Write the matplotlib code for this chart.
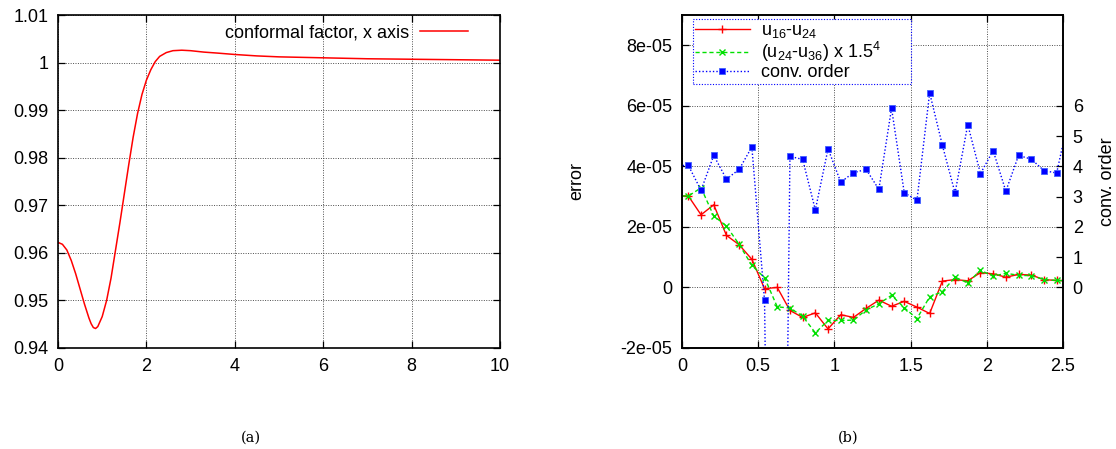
import numpy as np
import matplotlib
matplotlib.use("Agg")
import matplotlib.pyplot as plt

plt.rcParams['font.family'] = ['Liberation Sans', 'DejaVu Sans']
plt.rcParams['mathtext.default'] = 'regular'
plt.rcParams['font.size'] = 13

# (a) conformal factor along x axis
cf_x = [0.0, 0.1, 0.2, 0.3, 0.4, 0.5, 0.6, 0.7, 0.75, 0.8, 0.85, 0.9, 1.0, 1.1,
        1.2, 1.3, 1.4, 1.5, 1.6, 1.7, 1.8, 1.9, 2.0, 2.1, 2.2, 2.3, 2.45, 2.6,
        2.8, 3.0, 3.3, 3.6, 4.0, 4.5, 5.0, 5.5, 6.0, 7.0, 8.0, 9.0, 10.0]
cf_y = [0.9622, 0.9618, 0.9606, 0.9584, 0.9556, 0.9524, 0.9492, 0.9463, 0.9451,
        0.9443, 0.9441, 0.9445, 0.9466, 0.9500, 0.9547, 0.9605, 0.9663, 0.9724,
        0.9785, 0.9843, 0.9893, 0.9933, 0.9963, 0.9985, 1.0002, 1.0013, 1.0021,
        1.0025, 1.0026, 1.0025, 1.0022, 1.0020, 1.0017, 1.0014, 1.0012, 1.0011,
        1.0010, 1.0008, 1.0007, 1.0006, 1.0005]
a_xticks = [0, 2, 4, 6, 8, 10]
a_yticks = [0.94, 0.95, 0.96, 0.97, 0.98, 0.99, 1.0, 1.01]
a_ylabels = ["0.94", "0.95", "0.96", "0.97", "0.98", "0.99", "1", "1.01"]

# (b) errors and convergence order (first point is the mirror ghost at -1/24)
err_x = [-1/24] + [1/24 + k/12 for k in range(31)]
err_16_24 = [3.02, 3.02, 2.40, 2.73, 1.72, 1.41, 0.93, -0.04, 0.0, -0.76, -0.99,
             -0.84, -1.37, -0.90, -0.99, -0.69, -0.42, -0.62, -0.46, -0.65,
             -0.86, 0.21, 0.26, 0.22, 0.49, 0.45, 0.34, 0.43, 0.41, 0.26, 0.23, 0.22]
err_24_36 = [3.02, 3.02, 3.29, 2.36, 2.03, 1.42, 0.73, 0.32, -0.64, -0.68, -0.95,
             -1.50, -1.09, -1.09, -1.08, -0.74, -0.54, -0.26, -0.67, -1.03,
             -0.31, -0.14, 0.34, 0.15, 0.57, 0.37, 0.47, 0.40, 0.39, 0.26, 0.23, 0.22]
conv_order = [4.03, 4.03, 3.21, 4.36, 3.58, 3.90, 4.64, -0.43, -33.0, 4.33, 4.23,
              2.56, 4.58, 3.48, 3.79, 3.90, 3.24, 5.92, 3.13, 2.88, 6.43, 4.70,
              3.12, 5.38, 3.76, 4.52, 3.18, 4.36, 4.24, 3.86, 3.78, 5.7]
err_scale = 1e-5
b_xticks = [0, 0.5, 1, 1.5, 2, 2.5]
b_xlabels = ["0", "0.5", "1", "1.5", "2", "2.5"]
b_yticks = [-2e-5, 0, 2e-5, 4e-5, 6e-5, 8e-5]
b_ylabels = ["-2e-05", "0", "2e-05", "4e-05", "6e-05", "8e-05"]
b_y2ticks = [0, 1, 2, 3, 4, 5, 6]

W, H = 1116, 449
fig = plt.figure(figsize=(W / 100, H / 100), dpi=100)

grid_kw = dict(color='0.3', linestyle=(0, (1, 1.5)), linewidth=0.7)
tick_kw = dict(direction='in', length=5, width=0.9, labelsize=13)


def frame(ax):
    for s in ax.spines.values():
        s.set_linewidth(1.2)


# ---- panel (a)
ax = fig.add_axes([58 / W, 1 - 348 / H, 442 / W, 333 / H])
ax.plot(cf_x, cf_y, color='#ff0000', lw=1.1, label='conformal factor, x axis')
ax.set_xlim(0, 10)
ax.set_ylim(0.94, 1.01)
ax.set_xticks(a_xticks)
ax.set_yticks(a_yticks)
ax.set_yticklabels(a_ylabels)
ax.tick_params(which='both', top=True, right=True, pad=7, **tick_kw)
ax.grid(True, **grid_kw)
frame(ax)
ax.legend(loc='upper right', bbox_to_anchor=(0.965, 1.02), frameon=False,
          markerfirst=False, handlelength=2.7, handletextpad=0.6, fontsize=13)

# ---- panel (b)
bx = fig.add_axes([682 / W, 1 - 348 / H, 381 / W, 333 / H])
bx.plot(err_x, np.array(err_16_24) * err_scale, color='#ff0000', lw=1.0,
        marker='+', ms=6, mew=1.0, label=r'u$_{16}$-u$_{24}$')
bx.plot(err_x, np.array(err_24_36) * err_scale, color='#00e000', lw=1.0,
        ls=(0, (3, 2)), marker='x', ms=5, mew=1.0,
        label=r'(u$_{24}$-u$_{36}$) x 1.5$^4$')
bx.set_xlim(0, 2.5)
bx.set_ylim(-2e-5, 9e-5)
bx.set_xticks(b_xticks)
bx.set_xticklabels(b_xlabels)
bx.set_yticks(b_yticks)
bx.set_yticklabels(b_ylabels)
bx.tick_params(axis='x', top=True, pad=7, **tick_kw)
bx.tick_params(axis='y', pad=7, **tick_kw)
bx.grid(True, **grid_kw)
bx.set_ylabel('error', fontsize=13, va='center')
bx.yaxis.set_label_coords(-0.276, 0.5)
frame(bx)

b2 = bx.twinx()
b2.plot(err_x, conv_order, color='#0000ff', lw=1.0, ls=(0, (1, 1.5)),
        marker='s', ms=4, mew=0.6, mec='#4060ff', label='conv. order')
b2.set_ylim(-2, 9)
b2.set_yticks(b_y2ticks)
b2.tick_params(axis='y', pad=7, **tick_kw)
b2.set_ylabel('conv. order', fontsize=13, va='center')
b2.yaxis.set_label_coords(1.116, 0.5)
frame(b2)

h1, l1 = bx.get_legend_handles_labels()
h2, l2 = b2.get_legend_handles_labels()
leg = b2.legend(h1 + h2, l1 + l2, loc='upper left',
                bbox_to_anchor=(0.028, 0.82, 0.572, 0.167), mode='expand',
                borderaxespad=0, fancybox=False, framealpha=1, fontsize=13,
                handlelength=3.0, handletextpad=0.65, labelspacing=0.0,
                borderpad=0.15)
leg.get_frame().set_edgecolor('#0000ff')
leg.get_frame().set_linestyle((0, (1, 1.5)))
leg.get_frame().set_linewidth(0.8)

# captions
fig.text(251 / W, 1 - 438 / H, '(a)', family='DejaVu Serif', fontsize=10.5,
         ha='center', va='center')
fig.text(848 / W, 1 - 438 / H, '(b)', family='DejaVu Serif', fontsize=10.5,
         ha='center', va='center')

fig.savefig('out.png', dpi=100)
